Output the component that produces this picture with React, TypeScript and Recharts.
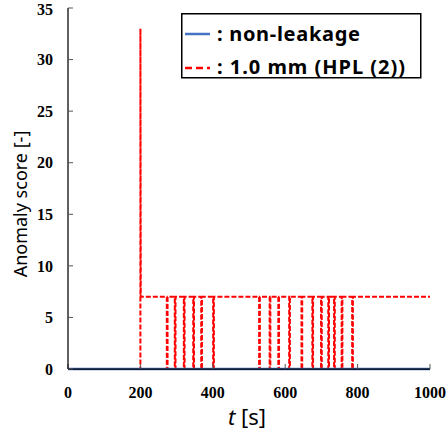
import React from 'react';
import { LineChart, Line, XAxis, YAxis } from 'recharts';

const xTicks = [0, 200, 400, 600, 800, 1000];
const yTicks = [0, 5, 10, 15, 20, 25, 30, 35];

const blueTimes = [0, 1000];
const blueScores = [0, 0];

const redTimes = [
  0, 200, 200, 201,
  273, 273, 275, 275,
  295, 295, 297, 297,
  320, 320, 322, 322,
  346, 346, 348, 348,
  368, 368, 370, 370,
  401, 401, 403, 403,
  528, 528, 530, 530,
  557, 557, 559, 559,
  581, 581, 583, 583,
  611, 611, 613, 613,
  645, 645, 647, 647,
  675, 675, 677, 677,
  699, 699, 701, 701,
  719, 719, 721, 721,
  735, 735, 737, 737,
  756, 756, 758, 758,
  785, 785, 787, 787,
  1000,
];
const redScores = [
  0, 0, 33, 7,
  7, 0, 0, 7,
  7, 0, 0, 7,
  7, 0, 0, 7,
  7, 0, 0, 7,
  7, 0, 0, 7,
  7, 0, 0, 7,
  7, 0, 0, 7,
  7, 0, 0, 7,
  7, 0, 0, 7,
  7, 0, 0, 7,
  7, 0, 0, 7,
  7, 0, 0, 7,
  7, 0, 0, 7,
  7, 0, 0, 7,
  7, 0, 0, 7,
  7, 0, 0, 7,
  7, 0, 0, 7,
  7,
];

const seriesNames = [': non-leakage', ': 1.0 mm (HPL (2))'];

const blueData = blueTimes.map((t, i) => ({ t, v: blueScores[i] }));
const redData = redTimes.map((t, i) => ({ t, v: redScores[i] }));

const BLUE = '#4472C4';
const RED = '#FF0000';
const SANS = '"Noto Sans", "Open Sans", sans-serif';
const tickFont = { fontFamily: '"Liberation Serif", "Times New Roman", serif', fontWeight: 700, fontSize: 16, fill: '#000' };

const LegendBox = () => (
  <svg width={241} height={66} style={{ display: 'block', position: 'absolute', left: 181, top: 13 }}>
    <rect x={0.75} y={0.75} width={239} height={64} fill="#fff" stroke="#000" strokeWidth={1.5} />
    <line x1={4} x2={29} y1={21} y2={21} stroke={BLUE} strokeWidth={2.5} />
    <line x1={4} x2={29} y1={55} y2={55} stroke={RED} strokeWidth={2.5} strokeDasharray="7 4" />
    <text x={36} y={28} fontFamily={SANS} fontWeight={700} fontSize={20} fill="#000" textLength={143} lengthAdjust="spacing">{seriesNames[0]}</text>
    <text x={36} y={61} fontFamily={SANS} fontWeight={700} fontSize={20} fill="#000" textLength={188} lengthAdjust="spacing">{seriesNames[1]}</text>
  </svg>
);

export default function App() {
  return (
    <div style={{ position: 'absolute', left: 0, top: 0, width: 448, height: 433, background: '#fff' }}>
      <LineChart width={448} height={433} margin={{ top: 8, right: 18, bottom: 0, left: 0 }}>
        <XAxis
          dataKey="t"
          type="number"
          domain={[0, 1000]}
          ticks={xTicks}
          height={64}
          tickSize={-5}
          tickMargin={23}
          tick={tickFont}
          axisLine={{ stroke: '#000', strokeWidth: 1.25 }}
          tickLine={{ stroke: '#555', strokeWidth: 1 }}
          allowDuplicatedCategory={false}
          label={{
            value: 't [s]',
            content: () => (
              <text x={247} y={425} textAnchor="middle" fontFamily={SANS} fontSize={22} fill="#000">
                <tspan fontStyle="italic">t</tspan> [s]
              </text>
            ),
          }}
        />
        <XAxis xAxisId="top" orientation="top" type="number" domain={[0, 1000]} height={0} tick={false} tickLine={false} axisLine={{ stroke: '#000', strokeWidth: 1.25 }} />
        <YAxis
          type="number"
          domain={[0, 35]}
          ticks={yTicks}
          width={68}
          tickSize={-5}
          tickMargin={20}
          tick={tickFont}
          axisLine={{ stroke: '#000', strokeWidth: 1.25 }}
          tickLine={{ stroke: '#555', strokeWidth: 1 }}
          label={{
            value: 'Anomaly score [-]',
            content: () => (
              <text x={27} y={204} transform="rotate(-90 27 204)" textAnchor="middle" fontFamily={SANS} fontSize={18} fill="#000">
                Anomaly score [-]
              </text>
            ),
          }}
        />
        <YAxis yAxisId="right" orientation="right" type="number" domain={[0, 35]} width={0} tick={false} tickLine={false} axisLine={{ stroke: '#000', strokeWidth: 1.25 }} />
        <Line data={redData} dataKey="v" type="linear" stroke={RED} strokeWidth={2} strokeDasharray="5 2" dot={false} isAnimationActive={false} />
        <Line data={blueData} dataKey="v" type="linear" stroke={BLUE} strokeWidth={2.5} dot={false} isAnimationActive={false} />
      </LineChart>
      <LegendBox />
    </div>
  );
}
